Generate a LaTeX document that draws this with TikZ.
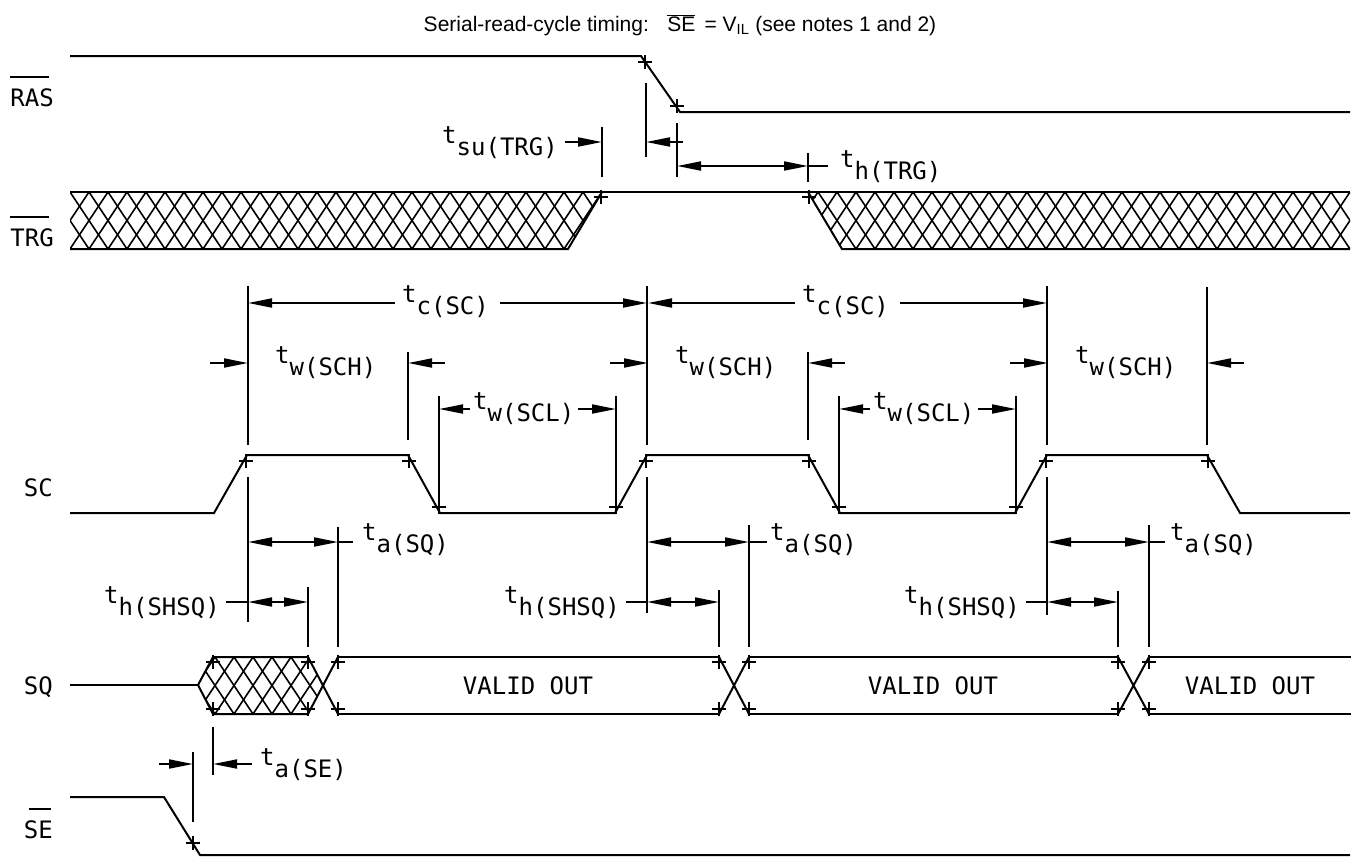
\documentclass[tikz,border=0pt]{standalone}
\usepackage{fontspec}
\setmainfont{Liberation Sans}
\newfontfamily\isofont{DejaVu Sans Mono}
\usetikzlibrary{arrows.meta,calc}
\newcommand\ovl[1]{\ensuremath{\overline{\mbox{#1}}}}
\newcommand\tsub[1]{t\raisebox{-12pt}{#1}}
\newcommand\cm[1]{\draw[cmark] #1 +(-7,0) -- +(7,0) +(0,-7) -- +(0,7);}
\tikzset{
 sig/.style={line width=2pt},
 cmark/.style={line width=1.8pt},
 ext/.style={line width=1.8pt},
 dim/.style={line width=1.8pt},
 tip/.tip={Triangle[length=24pt,width=9pt]},
 dimr/.style={dim,-tip},
 diml/.style={dim,tip-},
 dimb/.style={dim,tip-tip},
 lbl/.style={font=\isofont\fontsize{24}{28}\selectfont, inner sep=0pt},
 hatchline/.style={line width=1.6pt},
}
\begin{document}
\begin{tikzpicture}[x=1pt,y=-1pt]
\useasboundingbox (0,0) rectangle (1358,857);
% title
\node[font=\fontsize{21}{25}\selectfont, inner sep=0pt] (title) at (680,25)
  {Serial-read-cycle timing:\hspace{0.5em} \ovl{SE}\, = V\textsubscript{IL} (see notes 1 and 2)};
% left labels
\node[lbl,anchor=east] (lRAS) at (54,98) {RAS};
\node[lbl,anchor=east] (lTRG) at (54,238) {TRG};
\node[lbl,anchor=east] (lSC) at (53,488) {SC};
\node[lbl,anchor=east] (lSQ) at (53,687) {SQ};
\node[lbl,anchor=east] (lSE) at (53,830) {SE};
\draw[sig] ([yshift=12pt]lRAS.north west) -- ([yshift=12pt,xshift=-5pt]lRAS.north east);
\draw[sig] ([yshift=12pt]lTRG.north west) -- ([yshift=12pt,xshift=-5pt]lTRG.north east);
\draw[sig] ([yshift=12pt,xshift=5pt]lSE.north west) -- ([yshift=12pt,xshift=-2pt]lSE.north east);
% RAS
\draw[sig] (70,56) -- (641,56) -- (680,112) -- (1350,112);
\cm{(645,62)} \cm{(677,106)}
% t_su(TRG), t_h(TRG)
\draw[ext] (602,127) -- (602,177);
\draw[dimr] (565,142) -- (602,142);
\node[lbl,anchor=base east] (tsu) at (558,143) {\tsub{su(TRG)}};
\draw[ext] (646,83) -- (646,157);
\draw[diml] (646,142) -- (683,142);
\draw[ext] (677,123) -- (677,177);
\draw[dimb] (677,166) -- (808,166);
\draw[dim] (808,166) -- (828,166);
\draw[ext] (808,153) -- (808,182);
\node[lbl,anchor=base west] (thtrg) at (840,167) {\tsub{h(TRG)}};
% TRG
\begin{scope}
\clip (70,192) -- (602,192) -- (568,249) -- (70,249) -- cycle;
\foreach \i in {0,...,34} {
  \pgfmathsetmacro\xx{32+19*\i}
  \draw[hatchline] (\xx,192) -- ++(38,57) (\xx,192) -- ++(-38,57);
}
\end{scope}
\begin{scope}
\clip (808,192) -- (1350,192) -- (1350,249) -- (842,249) -- cycle;
\foreach \i in {0,...,33} {
  \pgfmathsetmacro\xx{780+19*\i}
  \draw[hatchline] (\xx,192) -- ++(38,57) (\xx,192) -- ++(-38,57);
}
\end{scope}
\draw[sig] (70,192) -- (1350,192);
\draw[sig] (70,249) -- (568,249) -- (602,192);
\draw[sig] (808,192) -- (842,249) -- (1350,249);
\cm{(601,197)} \cm{(809,197)}
% SC
\draw[sig] (70,513) -- (214,513) -- (247,455) -- (408,455) -- (440,513) -- (615,513)
  -- (647,455) -- (808,455) -- (840,513) -- (1015,513) -- (1047,455) -- (1207,455)
  -- (1240,513) -- (1350,513);
\foreach \x in {246,409,646,809,1046,1208} {\cm{(\x,461)}}
\foreach \x in {439,616,839,1016} {\cm{(\x,507)}}
% SC extension lines
\foreach \x in {248,647,1047} {\draw[ext] (\x,286) -- (\x,445);}
\draw[ext] (1207,287) -- (1207,445);
\foreach \x in {408,808} {\draw[ext] (\x,352) -- (\x,440);}
\foreach \x in {439,616,839,1016} {\draw[ext] (\x,396) -- (\x,500);}
\draw[ext] (248,477) -- (248,622);
\draw[ext] (647,477) -- (647,613);
\draw[ext] (1047,477) -- (1047,615);
% t_c(SC)
\foreach \o in {0,400} {
  \draw[diml] (248+\o,303) -- (395+\o,303);
  \draw[dimr] (500+\o,303) -- (647+\o,303);
}
\node[lbl,anchor=base west] (tc1) at (402,302) {\tsub{c(SC)}};
\node[lbl,anchor=base west] (tc2) at (802,302) {\tsub{c(SC)}};
% t_w(SCH)
\foreach \o in {0,400,800} {
  \draw[dimr] (210+\o,363) -- (248+\o,363);
}
\draw[diml] (408,363) -- (445,363);
\draw[diml] (808,363) -- (845,363);
\draw[diml] (1207,363) -- (1244,363);
\node[lbl,anchor=base west] (tw1) at (275,363) {\tsub{w(SCH)}};
\node[lbl,anchor=base west] (tw2) at (675,363) {\tsub{w(SCH)}};
\node[lbl,anchor=base west] (tw3) at (1075,363) {\tsub{w(SCH)}};
% t_w(SCL)
\foreach \o in {0,400} {
  \draw[diml] (439+\o,409) -- (470+\o,409);
  \draw[dimr] (578+\o,409) -- (616+\o,409);
}
\node[lbl,anchor=base west] (twl1) at (473,409) {\tsub{w(SCL)}};
\node[lbl,anchor=base west] (twl2) at (873,409) {\tsub{w(SCL)}};
% t_a(SQ)
\draw[dimb] (248,542) -- (338,542); \draw[dim] (338,542) -- (353,542);
\draw[dimb] (647,542) -- (749,542); \draw[dim] (749,542) -- (767,542);
\draw[dimb] (1047,542) -- (1149,542); \draw[dim] (1149,542) -- (1165,542);
\draw[ext] (338,527) -- (338,647);
\draw[ext] (749,525) -- (749,647);
\draw[ext] (1149,525) -- (1149,647);
\node[lbl,anchor=base west] (ta1) at (362,540) {\tsub{a(SQ)}};
\node[lbl,anchor=base west] (ta2) at (770,540) {\tsub{a(SQ)}};
\node[lbl,anchor=base west] (ta3) at (1170,540) {\tsub{a(SQ)}};
% t_h(SHSQ)
\draw[dim] (226,602) -- (248,602); \draw[dimb] (248,602) -- (308,602);
\draw[dim] (626,602) -- (647,602); \draw[dimb] (647,602) -- (719,602);
\draw[dim] (1026,602) -- (1047,602); \draw[dimb] (1047,602) -- (1118,602);
\draw[ext] (308,587) -- (308,647);
\draw[ext] (719,590) -- (719,647);
\draw[ext] (1118,591) -- (1118,647);
\node[lbl,anchor=base east] (th1) at (220,603) {\tsub{h(SHSQ)}};
\node[lbl,anchor=base east] (th2) at (620,603) {\tsub{h(SHSQ)}};
\node[lbl,anchor=base east] (th3) at (1020,603) {\tsub{h(SHSQ)}};
% SQ
\draw[sig] (70,685) -- (198,685);
\begin{scope}
\clip (198,685) -- (213,657) -- (308,657) -- (323,685) -- (308,714) -- (213,714) -- cycle;
\foreach \i in {0,...,12} {
  \pgfmathsetmacro\xx{158+19*\i}
  \draw[hatchline] (\xx,657) -- ++(38,57) (\xx,657) -- ++(-38,57);
}
\end{scope}
\draw[sig] (308,657) -- (213,657) -- (198,685) -- (213,714) -- (308,714);
\draw[sig] (308,657) -- (338,714) (308,714) -- (338,657);
\draw[sig] (338,657) -- (719,657) (338,714) -- (719,714);
\draw[sig] (719,657) -- (749,714) (719,714) -- (749,657);
\draw[sig] (749,657) -- (1118,657) (749,714) -- (1118,714);
\draw[sig] (1118,657) -- (1149,714) (1118,714) -- (1149,657);
\draw[sig] (1149,657) -- (1351,657) (1149,714) -- (1351,714);
\foreach \x in {213,308,338,719,749,1118,1149} {\cm{(\x,662)} \cm{(\x,709)}}
\node[lbl] (v1) at (528,686) {VALID OUT};
\node[lbl] (v2) at (933,686) {VALID OUT};
\node[lbl] (v3) at (1250,686) {VALID OUT};
% SE
\draw[sig] (70,797) -- (164,797) -- (200,855) -- (1350,855);
\cm{(193,843)}
\draw[ext] (193,752) -- (193,822);
\draw[ext] (213,727) -- (213,775);
\draw[dimr] (159,764) -- (193,764);
\draw[diml] (213,764) -- (252,764);
\node[lbl,anchor=base west] (tase) at (260,765) {\tsub{a(SE)}};
\end{tikzpicture}
\end{document}
